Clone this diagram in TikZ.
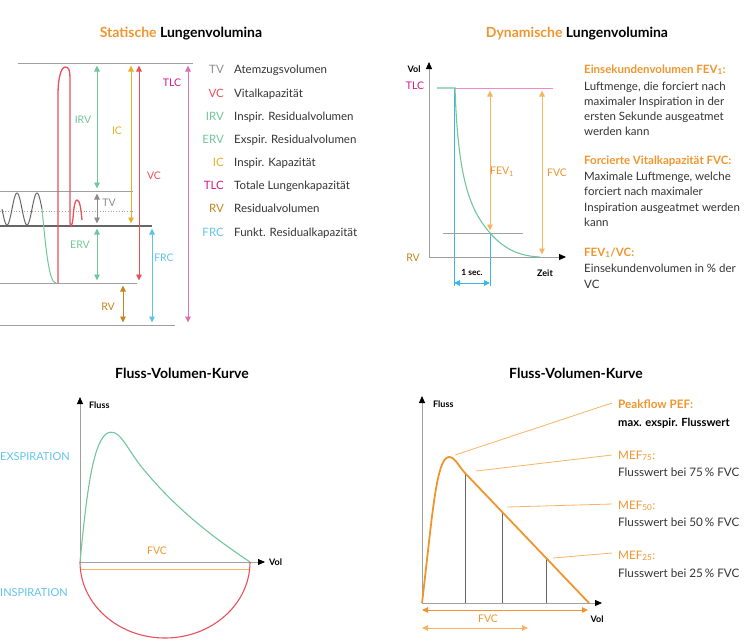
\documentclass[tikz,border=0pt]{standalone}
\usepackage{fontspec}
\setmainfont{Lato}
\usetikzlibrary{arrows.meta}
\definecolor{lgray}{HTML}{A0A0A0}
\definecolor{dgray}{HTML}{666666}
\definecolor{ctext}{HTML}{333333}
\definecolor{corange}{HTML}{F0952D}
\definecolor{lorange}{HTML}{F5B565}
\definecolor{cmag}{HTML}{D6198A}
\definecolor{cpinkline}{HTML}{E070B8}
\definecolor{cpink}{HTML}{F088CC}
\definecolor{cred}{HTML}{E8505A}
\definecolor{cgreen}{HTML}{72C69C}
\definecolor{cgold}{HTML}{E3B127}
\definecolor{cbrown}{HTML}{C7841F}
\definecolor{cblue}{HTML}{62C3EA}
\definecolor{cblue2}{HTML}{3DB3E6}
\definecolor{cgrayt}{HTML}{8C8C8C}
\begin{document}
\begin{tikzpicture}[x=1pt,y=-1pt,
  gline/.style={lgray, line width=0.8pt},
  dkline/.style={dgray, line width=1.4pt},
  arr/.style={line width=0.9pt, shorten >=2.5pt, shorten <=2.5pt,
     {Triangle[width=5.5pt,length=6pt]}-{Triangle[width=5.5pt,length=6pt]}},
  harr/.style={line width=1pt,
     {Triangle[width=5.5pt,length=6pt]}-{Triangle[width=5.5pt,length=6pt]}},
  axis/.style={lgray, line width=0.9pt, -{Triangle[width=6pt,length=7pt,color=black]}},
  lab/.style={font=\fontsize{10.5}{12}\selectfont, inner sep=0pt},
  ax/.style={font=\fontsize{9}{10}\selectfont\bfseries, inner sep=0pt},
  ttl/.style={font=\fontsize{14}{16}\selectfont\bfseries, inner sep=0pt},
  leg/.style={font=\fontsize{11.5}{14}\selectfont, inner sep=0pt},
  body/.style={font=\fontsize{11.5}{14}\selectfont, inner sep=0pt, anchor=base west, text=ctext},
  bodyb/.style={font=\fontsize{11.7}{14}\selectfont, inner sep=0pt, anchor=base west, text=ctext},
  lead/.style={lorange, line width=0.8pt}]
\useasboundingbox (0,0) rectangle (746,640);

% ================= Statische Lungenvolumina =================
\node[ttl] (t1) at (181,34) {\textcolor{corange}{Statische} Lungenvolumina};

\draw[gline] (18,63) -- (193,63);
\draw[gline] (0,191) -- (133,191);
\draw[lgray, dotted, line width=0.7pt] (0,211) -- (133,211);
\draw[dkline] (0,226) -- (152,226);
\draw[gline] (0,283) -- (137,283);
\draw[gline] (0,325) -- (175,325);

\draw[arr, cgreen] (97,63) -- (97,191);
\draw[arr, cgrayt] (97,191) -- (97,226);
\draw[arr, cgreen] (97,226) -- (97,283);
\draw[arr, cgold] (131,63) -- (131,226);
\draw[arr, cred] (139,63) -- (139,283);
\draw[arr, cbrown] (123,283) -- (123,325);
\draw[arr, cblue] (152,226) -- (152,325);
\draw[arr, cpinkline] (188,63) -- (188,325);

\node[lab, text=cgreen] (lirv) at (83,120) {IRV};
\node[lab, text=cgrayt] (ltv) at (109,203) {TV};
\node[lab, text=cgreen] (lerv) at (80,245) {ERV};
\node[lab, text=cgold] (lic) at (117,131) {IC};
\node[lab, text=cred] (lvc) at (154,176) {VC};
\node[lab, text=cbrown] (lrv) at (108,307) {RV};
\node[lab, text=cblue] (lfrc) at (164,258) {FRC};
\node[lab, text=cmag] (ltlc) at (172,83) {TLC};

% breathing curve
\draw[dgray, line width=1pt, domain=2:42, samples=80, smooth]
  plot (\x, {209-16*cos(18*(\x-17))});
\draw[cgreen, line width=1pt] (42,209) .. controls (46,250) and (49,283) .. (56,283);
\draw[cred, line width=1.3pt] (58,283) -- (58,95) .. controls (58,75) and (62,67) .. (65,67)
  .. controls (69,67) and (70,70) .. (70,80) -- (70,220)
  .. controls (70,228) and (72,228) .. (73,218)
  .. controls (74,206) and (75,200) .. (77,200)
  .. controls (80,200) and (81,210) .. (82,220);

% legend
\foreach \ab/\col/\txt/\yy in {TV/cgrayt/Atemzugsvolumen/69, VC/cred/Vitalkapazität/93,
  IRV/cgreen/Inspir. Residualvolumen/116, ERV/cgreen/Exspir. Residualvolumen/139,
  IC/cgold/Inspir. Kapazität/162, TLC/cmag/Totale Lungenkapazität/185,
  RV/cbrown/Residualvolumen/208, FRC/cblue/Funkt. Residualkapazität/232}{
  \node[leg, anchor=base east, text=\col] (ab-\ab) at (224,\yy+4.5) {\ab};
  \node[leg, anchor=base west, text=ctext] (tx-\ab) at (234,\yy+4.5) {\txt};
}

% ================= Dynamische Lungenvolumina =================
\node[ttl] (t2) at (577,34) {\textcolor{corange}{Dynamische} Lungenvolumina};

\draw[cpink, line width=0.8pt] (455,88) -- (553,88);
\draw[cblue2, line width=0.9pt] (454,88) -- (454,286);
\draw[cblue2, line width=0.9pt] (490,233) -- (490,286);
\draw[lgray, line width=0.8pt] (443,233) -- (523,233);
\draw[axis] (429,257) -- (429,62);
\draw[axis] (429,257) -- (566,257);
\draw[cgreen, line width=1.1pt] (437,88) -- (455,88)
  .. controls (458,180) and (470,210) .. (490,233)
  .. controls (505,250) and (520,256) .. (540,257);
\draw[arr, lorange] (490,88) -- (490,233);
\draw[arr, lorange] (542,88) -- (542,257);
\draw[harr, cblue2] (454,283) -- (490,283);

\node[ax] (vol1) at (414,69) {Vol};
\node[ax] (zeit) at (545,273) {Zeit};
\node[ax, font=\fontsize{8.5}{9}\selectfont\bfseries] (sec) at (472,272) {1 sec.};
\node[lab, text=cmag] (tlc2) at (415,86) {TLC};
\node[lab, text=cbrown] (rv2) at (413,258) {RV};
\node[lab, text=corange] (fev) at (502,172) {FEV\textsubscript{1}};
\node[lab, text=corange] (fvc2) at (557,173) {FVC};

\node[body, text=corange, font=\fontsize{11.5}{14}\selectfont\bfseries] (d1) at (584,73) {Einsekundenvolumen FEV\textsubscript{1}:};
\node[body] (d2) at (584,90) {Luftmenge, die forciert nach};
\node[body] (d3) at (584,105) {maximaler Inspiration in der};
\node[body] (d4) at (584,120) {ersten Sekunde ausgeatmet};
\node[body] (d5) at (584,135) {werden kann};
\node[body, text=corange, font=\fontsize{11.5}{14}\selectfont\bfseries] (d6) at (584,164) {Forcierte Vitalkapazität FVC:};
\node[body] (d7) at (584,180) {Maximale Luftmenge, welche};
\node[body] (d8) at (584,195) {forciert nach maximaler};
\node[body] (d9) at (584,211) {Inspiration ausgeatmet werden};
\node[body] (d10) at (584,226) {kann};
\node[body, text=corange, font=\fontsize{11.5}{14}\selectfont\bfseries] (d11) at (584,256) {FEV\textsubscript{1}/VC:};
\node[body] (d12) at (584,272) {Einsekundenvolumen in \% der};
\node[body] (d13) at (584,288) {VC};

% ================= Fluss-Volumen-Kurve (links) =================
\node[ttl] (t3) at (182,373) {Fluss-Volumen-Kurve};
\draw[axis] (80,562) -- (80,397);
\draw[axis] (80,562) -- (265,562);
\node[ax, anchor=west] (fl1) at (89,405) {Fluss};
\node[ax, anchor=west] (vl1) at (269,562) {Vol};
\draw[cgreen, line width=1.1pt] (80,562) .. controls (86,500) and (92,445) .. (106,434)
  .. controls (118,426) and (125,445) .. (140,465)
  .. controls (180,515) and (225,545) .. (250,562);
\draw[lorange, line width=1pt] (80,569) -- (250,569);
\node[lab, text=corange] (fvc3) at (157,551) {FVC};
\draw[cred, line width=1.1pt] (80,562) .. controls (80,604) and (118,638) .. (165,638)
  .. controls (212,638) and (250,604) .. (250,562);
\node[lab, font=\fontsize{11}{12}\selectfont, text=cblue, anchor=west] (exsp) at (0,457) {EXSPIRATION};
\node[lab, font=\fontsize{11}{12}\selectfont, text=cblue, anchor=west] (insp) at (0,593) {INSPIRATION};

% ================= Fluss-Volumen-Kurve (rechts) =================
\node[ttl] (t4) at (576,373) {Fluss-Volumen-Kurve};
\draw[dgray, line width=0.6pt] (465,473) -- (465,603);
\draw[dgray, line width=0.6pt] (502,512) -- (502,603);
\draw[dgray, line width=0.6pt] (546,558) -- (546,603);
\draw[axis] (422,603) -- (422,396);
\draw[axis] (422,603) -- (602,603);
\node[ax, anchor=west] (fl2) at (433,404) {Fluss};
\node[ax] (vl2) at (597,619) {Vol};
\draw[corange, line width=1.8pt, line join=round] (422,603) .. controls (432,520) and (436,457) .. (449,457)
  .. controls (455,457) and (459,466.7) .. (465,473) -- (589,603);
\draw[harr, corange] (422,610) -- (588,610);
\node[lab, text=corange] (fvc4) at (488,619) {FVC};
\draw[harr, lorange] (422,628) -- (528,628);

\draw[lead] (455,455) -- (612,403);
\draw[lead] (476,471) -- (612,455);
\draw[lead] (507,507) -- (612,504);
\draw[lead] (553,558) -- (612,553);

\node[bodyb, text=corange, font=\fontsize{11.7}{14}\selectfont\bfseries] (p1) at (618,408) {Peakflow PEF:};
\node[bodyb, text=black, font=\fontsize{11.2}{14}\selectfont\bfseries] (p2) at (618,426) {max. exspir. Flusswert};
\node[bodyb, text=corange] (p3) at (618,459) {MEF\textsubscript{75}:};
\node[bodyb] (p4) at (618,476) {Flusswert bei 75\,\% FVC};
\node[bodyb, text=corange] (p5) at (618,509) {MEF\textsubscript{50}:};
\node[bodyb] (p6) at (618,526) {Flusswert bei 50\,\% FVC};
\node[bodyb, text=corange] (p7) at (618,559) {MEF\textsubscript{25}:};
\node[bodyb] (p8) at (618,577) {Flusswert bei 25\,\% FVC};
\end{tikzpicture}
\end{document}
